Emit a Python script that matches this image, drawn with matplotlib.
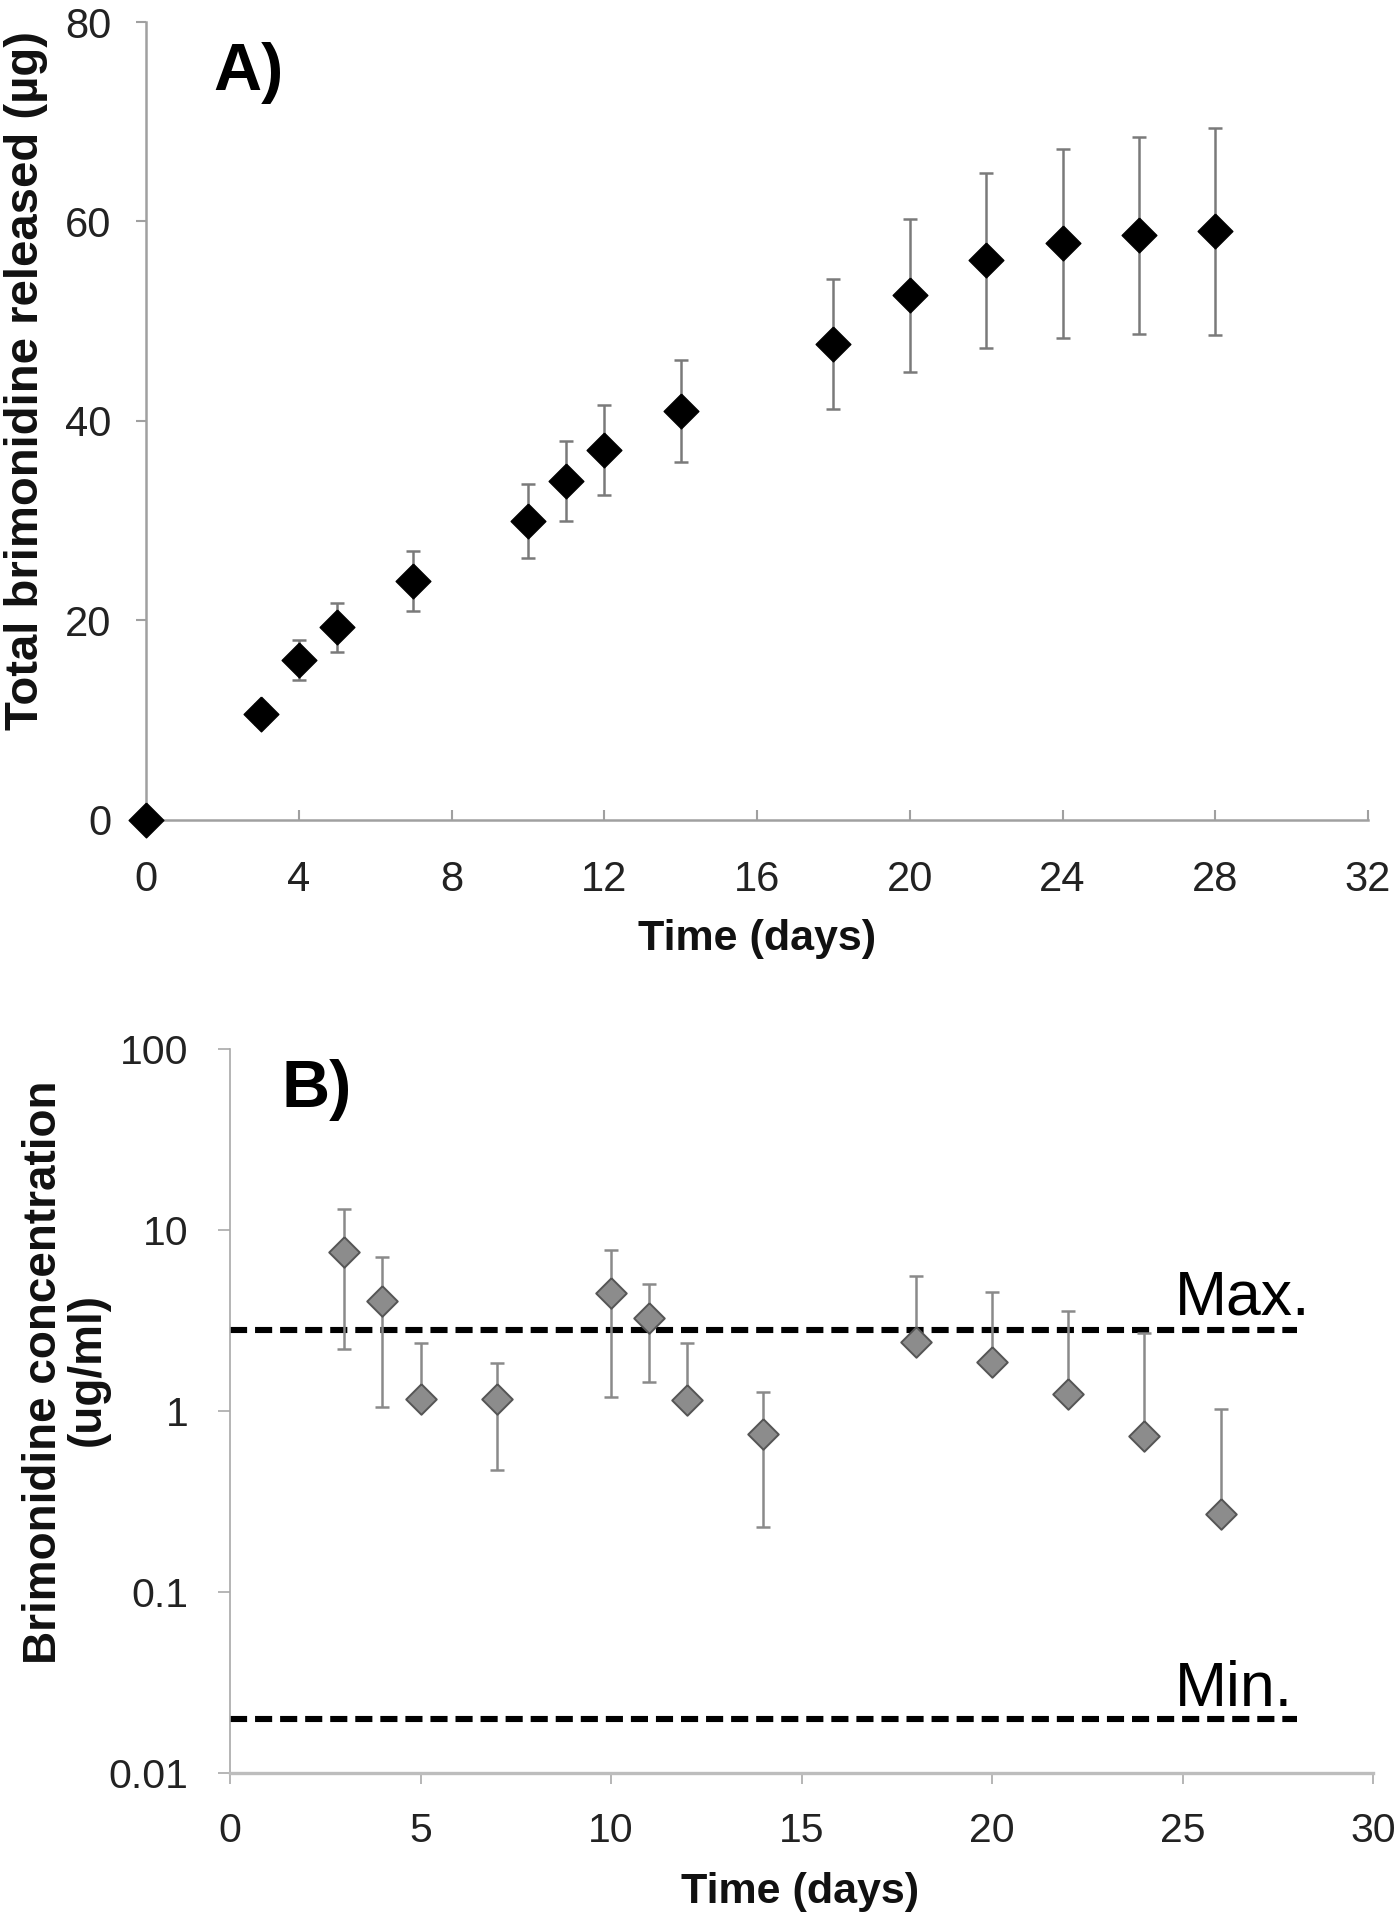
import numpy as np
import matplotlib
matplotlib.use("Agg")
import matplotlib.pyplot as plt

plt.rcParams['font.family'] = ['Liberation Sans', 'DejaVu Sans']

# ---------------- data ----------------
days_a = [0, 3, 4, 5, 7, 10, 11, 12, 14, 18, 20, 22, 24, 26, 28]
total_released = [0, 10.6, 16.0, 19.3, 24.0, 30.0, 34.0, 37.1, 41.0, 47.7, 52.6, 56.1, 57.8, 58.6, 59.0]
total_err = [0, 1.0, 2.0, 2.45, 3.0, 3.7, 4.0, 4.55, 5.1, 6.5, 7.7, 8.8, 9.5, 9.9, 10.4]

days_b = [3, 4, 5, 7, 10, 11, 12, 14, 18, 20, 22, 24, 26]
concentration = [7.6, 4.05, 1.16, 1.16, 4.5, 3.25, 1.15, 0.75, 2.4, 1.87, 1.24, 0.73, 0.27]
conc_err = [5.4, 3.0, 1.22, 0.69, 3.3, 1.8, 1.23, 0.52, 3.2, 2.7, 2.35, 1.98, 0.76]

max_level = 2.8
min_level = 0.02
level_span = [0, 28]

a_xticks = [0, 4, 8, 12, 16, 20, 24, 28, 32]
a_yticks = [0, 20, 40, 60, 80]
b_xticks = [0, 5, 10, 15, 20, 25, 30]
b_yticks = [0.01, 0.1, 1, 10, 100]
b_yticklabels = ['0.01', '0.1', '1', '10', '100']

# ---------------- figure ----------------
W, H = 1400, 1920
fig = plt.figure(figsize=(W / 100, H / 100), dpi=100)


def fx(px):
    return px / W


def fy(py):
    return 1 - py / H


diamond = [(0, 1), (1, 0), (0, -1), (-1, 0), (0, 1)]

# ---------- Panel A ----------
axA = fig.add_axes([fx(146), fy(820), fx(1368) - fx(146), fy(22) - fy(820)])
axA.set_xlim(0, 32)
axA.set_ylim(0, 80)
axA.errorbar(days_a, total_released, yerr=total_err, fmt='none',
             ecolor='#7a7a7a', elinewidth=1.8, capsize=5, capthick=1.8,
             zorder=2, clip_on=False)
axA.plot(days_a, total_released, linestyle='none', marker=diamond,
         markersize=25, color='black', markeredgecolor='black',
         zorder=3, clip_on=False)
axA.set_xticks(a_xticks)
axA.set_yticks(a_yticks)
for s in ['top', 'right']:
    axA.spines[s].set_visible(False)
for s in ['left', 'bottom']:
    axA.spines[s].set_color('#a0a0a0')
    axA.spines[s].set_linewidth(1.8)
axA.tick_params(axis='x', direction='in', length=7, width=1.5,
                color='#a0a0a0', labelsize=30, pad=29, labelcolor='#222222')
axA.tick_params(axis='y', direction='out', length=7, width=1.5,
                color='#a0a0a0', labelsize=30, pad=18, labelcolor='#222222')

fig.text(fx(757), fy(939), 'Time (days)', ha='center', va='center',
         fontsize=31, fontweight='bold', color='#111111')
fig.text(fx(26), fy(380), 'Total brimonidine released (µg)', ha='center',
         va='center', rotation=90, fontsize=34, fontweight='bold',
         color='#111111')
fig.text(fx(213), fy(90), 'A)', ha='left', va='baseline', fontsize=48,
         fontweight='bold', color='black')

# ---------- Panel B ----------
axB = fig.add_axes([fx(230), fy(1773), fx(1373) - fx(230), fy(1049) - fy(1773)])
axB.set_yscale('log')
axB.set_xlim(0, 30)
axB.set_ylim(0.01, 100)

axB.plot(level_span, [max_level, max_level], color='black', linewidth=4.4,
         dashes=(2.8, 1.3), zorder=2)
axB.plot(level_span, [min_level, min_level], color='black', linewidth=4.4,
         dashes=(2.8, 1.3), zorder=2)

conc_arr = np.array(concentration)
err_arr = np.array(conc_err)
lower = np.where(conc_arr - err_arr > 0, err_arr, 0.0)
axB.errorbar(days_b, concentration, yerr=[lower, err_arr], fmt='none',
             ecolor='#8a8a8a', elinewidth=1.8, capsize=5, capthick=1.8,
             zorder=3)
axB.plot(days_b, concentration, linestyle='none', marker=diamond,
         markersize=22, markerfacecolor='#8c8c8c', markeredgecolor='#555555',
         markeredgewidth=1.4, zorder=4)

axB.text(28.35, 3.4, 'Max.', ha='right', va='baseline', fontsize=45,
         color='black')
axB.text(27.9, 0.0234, 'Min.', ha='right', va='baseline', fontsize=45,
         color='black')

axB.set_xticks(b_xticks)
axB.set_yticks(b_yticks)
axB.set_yticklabels(b_yticklabels)
axB.minorticks_off()
for s in ['top', 'right']:
    axB.spines[s].set_visible(False)
axB.spines['left'].set_color('#a8a8a8')
axB.spines['left'].set_linewidth(1.2)
axB.spines['bottom'].set_color('#bdbdbd')
axB.spines['bottom'].set_linewidth(2.4)
axB.tick_params(axis='x', direction='out', length=8, width=1.3,
                color='#b0b0b0', labelsize=29.5, pad=20, labelcolor='#222222')
axB.tick_params(axis='y', direction='out', length=9, width=1.3,
                color='#b0b0b0', labelsize=29.5, pad=21, labelcolor='#222222')

fig.text(fx(800), fy(1892), 'Time (days)', ha='center', va='center',
         fontsize=31, fontweight='bold', color='#111111')
fig.text(fx(44), fy(1372), 'Brimonidine concentration', ha='center',
         va='center', rotation=90, fontsize=33, fontweight='bold',
         color='#111111')
fig.text(fx(88), fy(1369), '(ug/ml)', ha='center', va='center',
         rotation=90, fontsize=33, fontweight='bold', color='#111111')
fig.text(fx(281), fy(1107), 'B)', ha='left', va='baseline', fontsize=48,
         fontweight='bold', color='black')

fig.savefig('out.png', dpi=100, facecolor='white')
